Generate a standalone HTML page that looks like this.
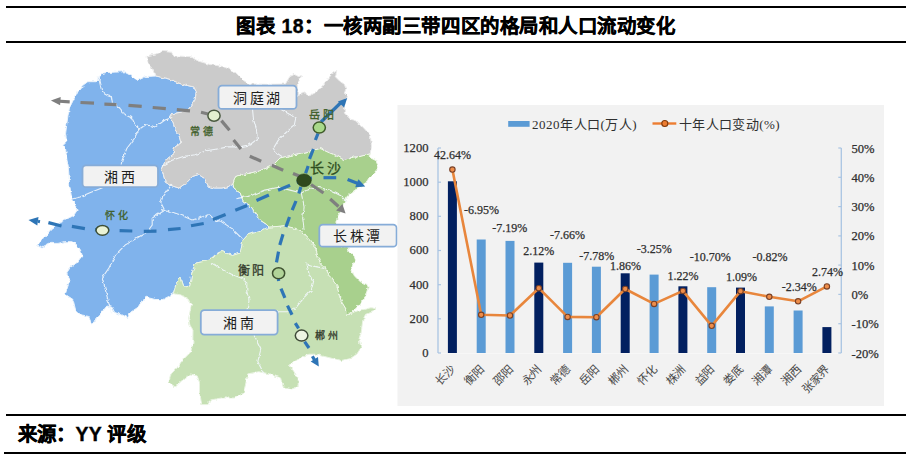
<!DOCTYPE html>
<html lang="zh-CN"><head><meta charset="utf-8"><style>
html,body{margin:0;padding:0;background:#fff;width:912px;height:461px;overflow:hidden}
.ln{position:absolute;background:#000}
.title{position:absolute;left:0;width:912px;top:14px;text-align:center;font-family:"Liberation Sans",sans-serif;font-weight:bold;font-size:19.4px;letter-spacing:0.55px;line-height:24px;color:#000;-webkit-text-stroke:0.4px #000}
.src{position:absolute;left:17.5px;top:422px;font-family:"Liberation Sans",sans-serif;font-weight:bold;font-size:19.4px;letter-spacing:0.3px;line-height:24px;color:#000;-webkit-text-stroke:0.4px #000}
svg{position:absolute;left:0;top:0}
</style></head><body>
<div class="ln" style="left:6px;top:6px;width:900px;height:2px"></div>
<div class="title">图表 18：一核两副三带四区的格局和人口流动变化</div>
<div class="ln" style="left:6px;top:41px;width:900px;height:2px"></div>
<svg width="912" height="461" viewBox="0 0 912 461">
<defs><filter id="jag" x="0" y="0" width="912" height="461" filterUnits="userSpaceOnUse"><feTurbulence type="fractalNoise" baseFrequency="0.22" numOctaves="2" seed="3" result="n"/><feDisplacementMap in="SourceGraphic" in2="n" scale="3.5" xChannelSelector="R" yChannelSelector="G" result="d"/><feGaussianBlur in="d" stdDeviation="0.35"/></filter></defs><g filter="url(#jag)">
<polygon points="156.0,76.0 169.0,79.0 182.0,84.3 193.8,86.9 196.4,92.0 195.0,100.0 190.0,107.7 182.0,112.0 172.0,114.0 169.3,118.0 173.0,122.0 175.0,129.5 179.0,135.4 181.0,143.0 175.0,147.0 173.0,151.0 175.0,153.0 167.3,158.8 163.4,164.7 161.5,168.6 163.4,174.5 165.4,182.3 173.2,186.2 179.0,188.0 186.9,182.3 192.7,176.4 198.6,174.5 204.5,178.4 208.4,186.2 214.2,188.0 222.0,188.0 229.8,186.2 233.0,184.0 233.8,187.8 240.3,193.0 243.0,200.8 250.7,206.0 256.0,213.9 258.5,219.0 266.4,224.3 269.0,227.0 258.5,232.0 248.0,234.7 243.0,240.0 240.3,253.0 232.5,255.5 222.0,251.6 214.3,255.5 210.0,260.0 203.7,261.5 196.1,263.0 193.1,269.1 191.6,275.2 190.0,285.8 184.0,287.3 181.0,278.2 176.4,282.8 173.4,293.4 168.8,296.4 162.8,299.5 155.2,299.5 146.0,297.2 140.0,304.0 138.0,307.3 130.3,312.5 127.7,317.7 122.5,315.0 114.7,312.5 112.0,307.3 106.9,306.0 101.7,312.5 96.5,317.7 95.2,321.6 91.2,323.0 88.6,316.4 80.8,315.0 75.6,310.0 73.0,299.5 65.2,294.3 70.4,278.6 66.7,272.9 70.1,267.7 77.0,262.5 82.3,255.6 80.6,250.3 77.0,245.1 71.9,241.7 65.0,241.7 58.0,243.4 49.3,243.4 42.4,246.9 37.2,245.1 44.1,238.2 49.3,231.2 52.8,227.8 59.7,222.6 66.7,219.0 73.6,215.6 77.0,210.4 75.3,205.2 71.9,200.0 69.5,183.9 68.2,165.6 66.9,160.0 65.6,149.0 63.0,145.5 66.9,141.6 65.6,133.8 66.9,123.0 68.0,115.5 69.5,107.7 74.7,97.3 77.3,92.0 82.5,85.6 87.7,81.7 98.0,81.7 100.7,74.0 106.0,72.5 124.0,71.8 130.0,75.0 137.8,80.4 145.6,76.5" fill="#80b3ec" stroke="#eaf3fc" stroke-width="1"/>
<polygon points="156.0,76.0 152.3,69.8 147.9,62.8 147.0,55.8 155.8,54.0 162.8,51.4 171.6,52.3 173.3,55.8 190.9,56.7 197.9,61.0 210.2,64.6 222.5,66.3 234.7,71.6 243.5,80.4 248.8,83.9 266.0,84.3 284.0,84.0 285.2,84.3 289.7,76.7 294.3,74.4 298.8,76.7 301.9,75.2 299.6,79.7 297.3,84.3 297.3,98.0 300.3,93.4 305.0,91.9 308.0,96.4 314.0,93.4 320.0,88.8 326.0,81.2 332.2,73.7 336.8,70.6 335.3,76.7 339.8,81.2 344.4,84.3 345.9,88.8 344.4,93.4 347.4,96.4 344.4,105.5 344.4,113.0 350.4,119.2 356.5,120.7 361.0,125.2 365.6,130.0 370.3,135.5 371.6,146.0 370.8,150.2 370.3,153.8 362.0,156.3 353.4,157.2 344.7,160.6 336.0,155.4 327.4,152.0 320.4,148.5 306.0,152.0 293.0,155.0 280.0,158.0 272.0,166.0 259.0,171.0 246.0,174.0 235.6,176.5 233.0,184.0 229.8,186.2 222.0,188.0 214.2,188.0 208.4,186.2 204.5,178.4 198.6,174.5 192.7,176.4 186.9,182.3 179.0,188.0 173.2,186.2 165.4,182.3 163.4,174.5 161.5,168.6 163.4,164.7 167.3,158.8 175.0,153.0 173.0,151.0 175.0,147.0 181.0,143.0 179.0,135.4 175.0,129.5 173.0,122.0 169.3,118.0 172.0,114.0 182.0,112.0 190.0,107.7 195.0,100.0 196.4,92.0 193.8,86.9 182.0,84.3 169.0,79.0" fill="#cbcbcb" stroke="#ececec" stroke-width="1"/>
<polygon points="269.0,227.0 277.0,226.5 283.9,225.6 290.8,227.3 301.0,230.0 304.7,235.0 310.0,240.3 315.2,247.0 317.8,256.2 320.4,262.8 325.6,268.0 329.5,275.8 333.4,281.0 337.0,285.6 339.5,296.0 342.1,302.6 346.0,309.0 347.3,314.3 359.0,310.4 365.6,309.0 372.0,307.8 376.0,309.0 373.4,311.7 365.6,314.3 363.0,319.5 361.0,332.5 359.0,339.0 361.0,347.7 356.8,354.2 350.3,358.6 341.6,360.7 332.9,358.6 324.2,356.4 315.5,354.2 309.0,354.2 302.5,356.4 296.0,360.7 289.5,365.0 293.9,371.6 298.2,378.0 298.2,386.8 291.7,389.0 283.0,386.8 280.6,378.0 269.6,373.9 258.7,371.7 247.7,373.9 245.5,384.8 243.3,393.6 234.6,398.0 221.4,398.0 210.4,400.0 208.0,404.6 201.7,404.6 199.5,391.4 199.5,382.6 197.3,376.0 190.7,373.9 182.0,380.4 175.4,387.0 168.8,382.6 171.0,374.0 177.5,367.3 182.0,360.7 190.7,352.0 192.9,343.0 192.9,336.6 193.0,330.0 190.0,325.2 188.6,319.2 190.0,311.6 191.6,304.0 188.6,299.5 181.0,295.0 173.4,293.4 176.4,282.8 181.0,278.2 184.0,287.3 190.0,285.8 191.6,275.2 193.1,269.1 196.1,263.0 203.7,261.5 210.0,260.0 214.3,255.5 222.0,251.6 232.5,255.5 240.3,253.0 243.0,240.0 248.0,234.7 258.5,232.0" fill="#c6e0b4" stroke="#e9f3e2" stroke-width="1"/>
<polygon points="233.0,184.0 235.6,176.5 246.0,174.0 259.0,171.0 272.0,166.0 280.0,158.0 293.0,155.0 306.0,152.0 320.4,148.5 327.4,152.0 336.0,155.4 344.7,160.6 353.4,157.2 362.0,156.3 370.3,153.8 369.0,157.2 376.0,160.6 378.6,167.6 374.2,172.8 369.0,178.0 365.6,183.2 362.0,186.7 355.0,190.1 348.2,195.3 344.7,200.6 343.0,205.8 341.2,211.0 337.8,216.2 336.0,221.4 336.0,230.0 340.0,247.0 347.8,246.5 349.0,251.0 354.3,256.2 355.6,260.2 353.0,264.0 351.7,269.3 354.3,275.8 360.4,281.7 366.9,284.3 368.2,287.0 365.6,296.0 363.0,300.0 359.0,305.2 353.9,310.4 350.0,313.0 347.3,314.3 346.0,309.0 342.1,302.6 339.5,296.0 337.0,285.6 333.4,281.0 329.5,275.8 325.6,268.0 320.4,262.8 317.8,256.2 315.2,247.0 310.0,240.3 304.7,235.0 301.0,230.0 290.8,227.3 283.9,225.6 277.0,226.5 269.0,227.0 266.4,224.3 258.5,219.0 256.0,213.9 250.7,206.0 243.0,200.8 240.3,193.0 233.8,187.8" fill="#a8d08d" stroke="#eef6e8" stroke-width="1"/>
<path d="M98.2,76.0 L100.6,86.5 L101.8,91.3 L107.7,94.8 L111.3,96.0 L112.5,103.2 L119.7,108.0 L122.0,112.7 L131.6,117.5 L134.0,122.3 L138.8,129.4 L145.9,124.7 L155.5,127.0 L165.0,120.0 L172.2,117.5" fill="none" stroke="#f2f7fc" stroke-width="1.1" opacity="0.9"/>
<path d="M138.8,129.4 L134.0,139.0 L126.8,148.5 L122.0,160.5 L120.9,166.0" fill="none" stroke="#f2f7fc" stroke-width="1.1" opacity="0.9"/>
<path d="M105.6,186.5 L89.3,193.0 L80.0,197.0 L72.0,199.0" fill="none" stroke="#f2f7fc" stroke-width="1.1" opacity="0.9"/>
<path d="M161.7,166.4 L171.5,160.5 L183.2,156.6 L195.0,154.7 L206.6,150.8 L218.4,148.8 L228.0,146.9 L239.8,146.9 L249.6,144.9 L257.4,139.0 L256.4,129.3 L253.5,119.5 L252.5,109.0" fill="none" stroke="#f2f7fc" stroke-width="1.1" opacity="0.9"/>
<path d="M280.3,109.0 L289.0,113.9 L295.9,117.3 L294.1,126.0 L285.5,133.0 L278.5,139.9 L273.3,148.5 L276.8,153.7 L282.0,157.2" fill="none" stroke="#f2f7fc" stroke-width="1.1" opacity="0.9"/>
<path d="M172.0,184.0 L162.6,197.4 L160.8,202.6 L164.3,209.5 L159.0,213.0 L152.2,218.2 L152.2,225.0 L147.0,232.0 L138.2,237.3 L125.1,245.1 L115.4,254.9 L108.9,268.0 L102.3,277.7 L105.6,290.7 L108.9,303.8 L112.0,313.5" fill="none" stroke="#f2f7fc" stroke-width="1.1" opacity="0.9"/>
<path d="M164.3,209.5 L180.0,214.7 L192.0,220.0 L204.2,216.5 L209.4,214.7 L214.7,220.0 L221.6,221.7 L232.0,228.6 L242.4,239.0" fill="none" stroke="#f2f7fc" stroke-width="1.1" opacity="0.9"/>
<path d="M236.5,198.6 L250.6,195.7 L264.7,190.1 L278.7,187.3 L290.0,190.1 L301.3,193.0 L307.0,190.1 L318.2,187.3 L329.5,190.1 L340.8,195.7 L346.4,201.4" fill="none" stroke="#f2f7fc" stroke-width="1.1" opacity="0.9"/>
<path d="M301.3,193.0 L304.1,207.0 L302.7,218.3 L304.1,229.6" fill="none" stroke="#f2f7fc" stroke-width="1.1" opacity="0.9"/>
<path d="M212.0,263.4 L223.0,270.0 L231.6,274.2 L242.5,278.6 L246.8,283.0 L246.8,291.6 L249.0,300.0 L246.8,311.0 L252.0,325.0 L254.7,337.3 L260.8,349.4 L257.8,361.6 L263.8,373.7" fill="none" stroke="#f2f7fc" stroke-width="1.1" opacity="0.9"/>
<path d="M324.4,268.4 L313.6,266.2 L307.0,264.0 L309.2,274.9 L313.6,281.4 L311.4,290.0 L304.9,296.6 L296.2,307.4 L287.5,311.8 L276.7,311.8 L260.8,313.0 L248.6,310.0" fill="none" stroke="#f2f7fc" stroke-width="1.1" opacity="0.9"/>
</g>
<line x1="56" y1="101" x2="69.7" y2="101.8" stroke="#7f7f7f" stroke-width="3.2"/><line x1="80.5" y1="102.5" x2="94" y2="103.2" stroke="#7f7f7f" stroke-width="3.2"/><line x1="104.4" y1="104.2" x2="116.5" y2="104.6" stroke="#7f7f7f" stroke-width="3.2"/><line x1="128.5" y1="105.3" x2="141.7" y2="106.4" stroke="#7f7f7f" stroke-width="3.2"/><line x1="152.7" y1="107.5" x2="165.8" y2="108.6" stroke="#7f7f7f" stroke-width="3.2"/><line x1="176.8" y1="109.7" x2="190" y2="110.8" stroke="#7f7f7f" stroke-width="3.2"/><line x1="201" y1="112.3" x2="208" y2="114" stroke="#7f7f7f" stroke-width="3.2"/><line x1="221.4" y1="120.6" x2="229.5" y2="130.3" stroke="#7f7f7f" stroke-width="3.2"/><line x1="233.6" y1="140" x2="240.9" y2="149" stroke="#7f7f7f" stroke-width="3.2"/><line x1="249.8" y1="156.3" x2="261.2" y2="161.2" stroke="#7f7f7f" stroke-width="3.2"/><line x1="271.8" y1="165.3" x2="283.2" y2="170.2" stroke="#7f7f7f" stroke-width="3.2"/><line x1="293" y1="173.4" x2="301" y2="176.7" stroke="#7f7f7f" stroke-width="3.2"/><line x1="311" y1="184.5" x2="323.5" y2="193" stroke="#7f7f7f" stroke-width="3.2"/><line x1="330.2" y1="199" x2="338.5" y2="206.5" stroke="#7f7f7f" stroke-width="3.2"/>
<polygon points="50.9,100.5 60.7,97.0 60.1,105.3" fill="#7f7f7f"/>
<polygon points="345.6,213.6 336.1,210.4 342.4,204.1" fill="#7f7f7f"/>
<line x1="38" y1="221.3" x2="40" y2="221.7" stroke="#2e75b6" stroke-width="3.2"/><line x1="48.4" y1="222.6" x2="61.5" y2="226" stroke="#2e75b6" stroke-width="3.2"/><line x1="71.9" y1="226.4" x2="84.9" y2="228.6" stroke="#2e75b6" stroke-width="3.2"/><line x1="95" y1="229.6" x2="98" y2="229.9" stroke="#2e75b6" stroke-width="3.2"/><line x1="108" y1="230.4" x2="109" y2="230.5" stroke="#2e75b6" stroke-width="3.2"/><line x1="119.6" y1="230.7" x2="132.3" y2="231" stroke="#2e75b6" stroke-width="3.2"/><line x1="143.8" y1="231.4" x2="156.5" y2="231.2" stroke="#2e75b6" stroke-width="3.2"/><line x1="168" y1="229.6" x2="180.6" y2="228.5" stroke="#2e75b6" stroke-width="3.2"/><line x1="191" y1="225.8" x2="203.7" y2="223.5" stroke="#2e75b6" stroke-width="3.2"/><line x1="212.9" y1="219.5" x2="225.6" y2="214.5" stroke="#2e75b6" stroke-width="3.2"/><line x1="235.3" y1="210.2" x2="247.2" y2="205.4" stroke="#2e75b6" stroke-width="3.2"/><line x1="256.5" y1="200.5" x2="268.9" y2="195" stroke="#2e75b6" stroke-width="3.2"/><line x1="278.1" y1="190.2" x2="290.1" y2="185.3" stroke="#2e75b6" stroke-width="3.2"/><line x1="297" y1="182.8" x2="301" y2="181.5" stroke="#2e75b6" stroke-width="3.2"/><line x1="308" y1="178.3" x2="312" y2="178" stroke="#2e75b6" stroke-width="3.2"/><line x1="323.5" y1="177.7" x2="336.2" y2="177.7" stroke="#2e75b6" stroke-width="3.2"/><line x1="347.6" y1="179.5" x2="358" y2="183.6" stroke="#2e75b6" stroke-width="3.2"/>
<polygon points="28.5,220.0 38.5,217.1 37.3,225.4" fill="#2e75b6"/>
<polygon points="365.2,186.5 355.2,187.2 358.4,179.2" fill="#2e75b6"/>
<line x1="321" y1="122" x2="341" y2="102.5" stroke="#2e75b6" stroke-width="3.2"/><line x1="318" y1="133.5" x2="315.4" y2="140" stroke="#2e75b6" stroke-width="3.2"/><line x1="313.4" y1="149" x2="309.5" y2="158.9" stroke="#2e75b6" stroke-width="3.2"/><line x1="308.2" y1="166" x2="305.6" y2="173.2" stroke="#2e75b6" stroke-width="3.2"/><line x1="300.9" y1="186.9" x2="298.8" y2="193.4" stroke="#2e75b6" stroke-width="3.2"/><line x1="296" y1="201" x2="292.2" y2="210.2" stroke="#2e75b6" stroke-width="3.2"/><line x1="289.5" y1="217" x2="285.9" y2="227" stroke="#2e75b6" stroke-width="3.2"/><line x1="283" y1="234.2" x2="279.8" y2="245" stroke="#2e75b6" stroke-width="3.2"/><line x1="278.5" y1="251.6" x2="276.5" y2="262.4" stroke="#2e75b6" stroke-width="3.2"/><line x1="278.4" y1="279" x2="278.6" y2="281" stroke="#2e75b6" stroke-width="3.2"/><line x1="281" y1="288.7" x2="284.9" y2="297.8" stroke="#2e75b6" stroke-width="3.2"/><line x1="287.5" y1="305.6" x2="292" y2="314.7" stroke="#2e75b6" stroke-width="3.2"/><line x1="295.3" y1="323.2" x2="298.6" y2="328.4" stroke="#2e75b6" stroke-width="3.2"/><line x1="304.6" y1="341.7" x2="309" y2="348" stroke="#2e75b6" stroke-width="3.2"/><line x1="312.4" y1="356.3" x2="314.5" y2="360" stroke="#2e75b6" stroke-width="3.2"/>
<polygon points="347.2,98.0 344.1,107.5 337.9,101.6" fill="#2e75b6"/>
<polygon points="318.8,366.6 310.7,361.6 318.0,357.1" fill="#2e75b6"/>
<ellipse cx="102.4" cy="230.3" rx="6.4" ry="4.9" fill="#eaf3d6" stroke="#3d4f37" stroke-width="1.5"/>
<ellipse cx="214" cy="115.7" rx="6.1" ry="5.5" fill="#e3f0cf" stroke="#4a5a40" stroke-width="1.5"/>
<ellipse cx="319.3" cy="127.6" rx="6.1" ry="5.5" fill="#a9d98a" stroke="#3e5a2a" stroke-width="1.5"/>
<ellipse cx="278.6" cy="273.3" rx="6.1" ry="5.5" fill="#b1d498" stroke="#3e5030" stroke-width="1.5"/>
<ellipse cx="301.6" cy="335.6" rx="6.3" ry="5.5" fill="#edf4e2" stroke="#3e4a38" stroke-width="1.5"/>
<ellipse cx="304" cy="180.3" rx="7.3" ry="6.4" fill="#2f4a1e" stroke="#243a16" stroke-width="0.6"/>
<text x="203" y="135" font-size="10" fill="#3f5f2a" text-anchor="middle" font-weight="normal" font-family="'Liberation Serif',serif" letter-spacing="3" stroke="#3f5f2a" stroke-width="0.3">常德</text>
<text x="117.5" y="219" font-size="10" fill="#3f5f2a" text-anchor="middle" font-weight="normal" font-family="'Liberation Serif',serif" letter-spacing="3" stroke="#3f5f2a" stroke-width="0.3">怀化</text>
<text x="322.7" y="118.5" font-size="11" fill="#3f5f2a" text-anchor="middle" font-weight="normal" font-family="'Liberation Serif',serif" letter-spacing="3" stroke="#3f5f2a" stroke-width="0.3">岳阳</text>
<text x="327" y="172.5" font-size="14" fill="#2f4f1f" text-anchor="middle" font-weight="normal" font-family="'Liberation Serif',serif" letter-spacing="3" stroke="#2f4f1f" stroke-width="0.3">长沙</text>
<text x="252" y="275.2" font-size="12" fill="#333a2c" text-anchor="middle" font-weight="normal" font-family="'Liberation Serif',serif" letter-spacing="2" stroke="#333a2c" stroke-width="0.3">衡阳</text>
<text x="327.7" y="338.5" font-size="10" fill="#333a2c" text-anchor="middle" font-weight="normal" font-family="'Liberation Serif',serif" letter-spacing="3" stroke="#333a2c" stroke-width="0.3">郴州</text>
<rect x="218.5" y="85.6" width="78.0" height="23.30000000000001" rx="3.5" fill="#f2f2f2" stroke="#86acd8" stroke-width="1.8"/>
<text x="257.8" y="102.75" font-size="14" fill="#1e1e1e" text-anchor="middle" font-weight="normal" font-family="'Liberation Serif',serif" letter-spacing="2.5">洞庭湖</text>
<rect x="82.5" y="165.4" width="75.5" height="21.799999999999983" rx="3.5" fill="#f2f2f2" stroke="#86acd8" stroke-width="1.8"/>
<text x="120.5" y="181.8" font-size="14" fill="#1e1e1e" text-anchor="middle" font-weight="normal" font-family="'Liberation Serif',serif" letter-spacing="2.5">湘西</text>
<rect x="319.3" y="224.6" width="77.30000000000001" height="22.099999999999994" rx="3.5" fill="#f2f2f2" stroke="#86acd8" stroke-width="1.8"/>
<text x="358" y="241.14999999999998" font-size="14" fill="#1e1e1e" text-anchor="middle" font-weight="normal" font-family="'Liberation Serif',serif" letter-spacing="2.5">长株潭</text>
<rect x="200.8" y="310.2" width="76.80000000000001" height="24.400000000000034" rx="3.5" fill="#f2f2f2" stroke="#86acd8" stroke-width="1.8"/>
<text x="239.5" y="327.9" font-size="14" fill="#1e1e1e" text-anchor="middle" font-weight="normal" font-family="'Liberation Serif',serif" letter-spacing="2.5">湘南</text>
<rect x="397.5" y="105" width="486.5" height="301" fill="#f2f2f2"/>
<rect x="447.9" y="181.3" width="9" height="171.7" fill="#022060"/>
<rect x="476.7" y="239.5" width="9" height="113.5" fill="#5b9bd5"/>
<rect x="505.5" y="240.9" width="9" height="112.1" fill="#5b9bd5"/>
<rect x="534.3" y="262.6" width="9" height="90.4" fill="#022060"/>
<rect x="563.1" y="262.8" width="9" height="90.2" fill="#5b9bd5"/>
<rect x="591.9" y="266.7" width="9" height="86.3" fill="#5b9bd5"/>
<rect x="620.7" y="273.3" width="9" height="79.7" fill="#022060"/>
<rect x="649.6" y="274.6" width="9" height="78.4" fill="#5b9bd5"/>
<rect x="678.4" y="286.3" width="9" height="66.7" fill="#022060"/>
<rect x="707.2" y="287.2" width="9" height="65.8" fill="#5b9bd5"/>
<rect x="736.0" y="287.6" width="9" height="65.4" fill="#022060"/>
<rect x="764.8" y="306.4" width="9" height="46.6" fill="#5b9bd5"/>
<rect x="793.6" y="310.5" width="9" height="42.5" fill="#5b9bd5"/>
<rect x="822.4" y="327.1" width="9" height="25.9" fill="#022060"/>
<line x1="438.0" y1="353.5" x2="841.3" y2="353.5" stroke="#f7f7f7" stroke-width="1"/>
<line x1="438.0" y1="148.0" x2="438.0" y2="353.0" stroke="#a9c4e2" stroke-width="1.3"/>
<line x1="841.3" y1="148.0" x2="841.3" y2="353.0" stroke="#a9c4e2" stroke-width="1.3"/>
<line x1="438.0" y1="353.0" x2="441.0" y2="353.0" stroke="#a9c4e2" stroke-width="1.2"/>
<text x="428.5" y="356.9" font-size="12.6" fill="#2f2f2f" text-anchor="end" font-weight="normal" font-family="'Liberation Serif',serif" stroke="#2f2f2f" stroke-width="0.25">0</text>
<line x1="438.0" y1="318.8" x2="441.0" y2="318.8" stroke="#a9c4e2" stroke-width="1.2"/>
<text x="428.5" y="322.7333333333333" font-size="12.6" fill="#2f2f2f" text-anchor="end" font-weight="normal" font-family="'Liberation Serif',serif" stroke="#2f2f2f" stroke-width="0.25">200</text>
<line x1="438.0" y1="284.7" x2="441.0" y2="284.7" stroke="#a9c4e2" stroke-width="1.2"/>
<text x="428.5" y="288.56666666666666" font-size="12.6" fill="#2f2f2f" text-anchor="end" font-weight="normal" font-family="'Liberation Serif',serif" stroke="#2f2f2f" stroke-width="0.25">400</text>
<line x1="438.0" y1="250.5" x2="441.0" y2="250.5" stroke="#a9c4e2" stroke-width="1.2"/>
<text x="428.5" y="254.4" font-size="12.6" fill="#2f2f2f" text-anchor="end" font-weight="normal" font-family="'Liberation Serif',serif" stroke="#2f2f2f" stroke-width="0.25">600</text>
<line x1="438.0" y1="216.3" x2="441.0" y2="216.3" stroke="#a9c4e2" stroke-width="1.2"/>
<text x="428.5" y="220.23333333333335" font-size="12.6" fill="#2f2f2f" text-anchor="end" font-weight="normal" font-family="'Liberation Serif',serif" stroke="#2f2f2f" stroke-width="0.25">800</text>
<line x1="438.0" y1="182.2" x2="441.0" y2="182.2" stroke="#a9c4e2" stroke-width="1.2"/>
<text x="428.5" y="186.06666666666666" font-size="12.6" fill="#2f2f2f" text-anchor="end" font-weight="normal" font-family="'Liberation Serif',serif" stroke="#2f2f2f" stroke-width="0.25">1000</text>
<line x1="438.0" y1="148.0" x2="441.0" y2="148.0" stroke="#a9c4e2" stroke-width="1.2"/>
<text x="428.5" y="151.9" font-size="12.6" fill="#2f2f2f" text-anchor="end" font-weight="normal" font-family="'Liberation Serif',serif" stroke="#2f2f2f" stroke-width="0.25">1200</text>
<line x1="838.3" y1="148.0" x2="841.3" y2="148.0" stroke="#a9c4e2" stroke-width="1.2"/>
<text x="851.5" y="152.6" font-size="12.6" fill="#2f2f2f" text-anchor="start" font-weight="normal" font-family="'Liberation Serif',serif" stroke="#2f2f2f" stroke-width="0.25">50%</text>
<line x1="838.3" y1="177.3" x2="841.3" y2="177.3" stroke="#a9c4e2" stroke-width="1.2"/>
<text x="851.5" y="181.88571428571427" font-size="12.6" fill="#2f2f2f" text-anchor="start" font-weight="normal" font-family="'Liberation Serif',serif" stroke="#2f2f2f" stroke-width="0.25">40%</text>
<line x1="838.3" y1="206.6" x2="841.3" y2="206.6" stroke="#a9c4e2" stroke-width="1.2"/>
<text x="851.5" y="211.17142857142855" font-size="12.6" fill="#2f2f2f" text-anchor="start" font-weight="normal" font-family="'Liberation Serif',serif" stroke="#2f2f2f" stroke-width="0.25">30%</text>
<line x1="838.3" y1="235.9" x2="841.3" y2="235.9" stroke="#a9c4e2" stroke-width="1.2"/>
<text x="851.5" y="240.45714285714286" font-size="12.6" fill="#2f2f2f" text-anchor="start" font-weight="normal" font-family="'Liberation Serif',serif" stroke="#2f2f2f" stroke-width="0.25">20%</text>
<line x1="838.3" y1="265.1" x2="841.3" y2="265.1" stroke="#a9c4e2" stroke-width="1.2"/>
<text x="851.5" y="269.74285714285713" font-size="12.6" fill="#2f2f2f" text-anchor="start" font-weight="normal" font-family="'Liberation Serif',serif" stroke="#2f2f2f" stroke-width="0.25">10%</text>
<line x1="838.3" y1="294.4" x2="841.3" y2="294.4" stroke="#a9c4e2" stroke-width="1.2"/>
<text x="851.5" y="299.02857142857147" font-size="12.6" fill="#2f2f2f" text-anchor="start" font-weight="normal" font-family="'Liberation Serif',serif" stroke="#2f2f2f" stroke-width="0.25">0%</text>
<line x1="838.3" y1="323.7" x2="841.3" y2="323.7" stroke="#a9c4e2" stroke-width="1.2"/>
<text x="851.5" y="328.31428571428575" font-size="12.6" fill="#2f2f2f" text-anchor="start" font-weight="normal" font-family="'Liberation Serif',serif" stroke="#2f2f2f" stroke-width="0.25">-10%</text>
<line x1="838.3" y1="353.0" x2="841.3" y2="353.0" stroke="#a9c4e2" stroke-width="1.2"/>
<text x="851.5" y="357.6" font-size="12.6" fill="#2f2f2f" text-anchor="start" font-weight="normal" font-family="'Liberation Serif',serif" stroke="#2f2f2f" stroke-width="0.25">-20%</text>
<path d="M452.4,169.6 L481.2,314.8 L510.0,315.5 L538.8,288.2 L567.6,316.9 L596.4,317.2 L625.2,289.0 L654.1,303.9 L682.9,290.9 L711.7,325.8 L740.5,291.2 L769.3,296.8 L798.1,301.3 L826.9,286.4" fill="none" stroke="#e8863c" stroke-width="2.6" stroke-linejoin="round"/>
<circle cx="452.4" cy="169.6" r="2.7" fill="#ee8d4a" stroke="#7a4126" stroke-width="1.1"/>
<circle cx="481.2" cy="314.8" r="2.7" fill="#ee8d4a" stroke="#7a4126" stroke-width="1.1"/>
<circle cx="510.0" cy="315.5" r="2.7" fill="#ee8d4a" stroke="#7a4126" stroke-width="1.1"/>
<circle cx="538.8" cy="288.2" r="2.7" fill="#ee8d4a" stroke="#7a4126" stroke-width="1.1"/>
<circle cx="567.6" cy="316.9" r="2.7" fill="#ee8d4a" stroke="#7a4126" stroke-width="1.1"/>
<circle cx="596.4" cy="317.2" r="2.7" fill="#ee8d4a" stroke="#7a4126" stroke-width="1.1"/>
<circle cx="625.2" cy="289.0" r="2.7" fill="#ee8d4a" stroke="#7a4126" stroke-width="1.1"/>
<circle cx="654.1" cy="303.9" r="2.7" fill="#ee8d4a" stroke="#7a4126" stroke-width="1.1"/>
<circle cx="682.9" cy="290.9" r="2.7" fill="#ee8d4a" stroke="#7a4126" stroke-width="1.1"/>
<circle cx="711.7" cy="325.8" r="2.7" fill="#ee8d4a" stroke="#7a4126" stroke-width="1.1"/>
<circle cx="740.5" cy="291.2" r="2.7" fill="#ee8d4a" stroke="#7a4126" stroke-width="1.1"/>
<circle cx="769.3" cy="296.8" r="2.7" fill="#ee8d4a" stroke="#7a4126" stroke-width="1.1"/>
<circle cx="798.1" cy="301.3" r="2.7" fill="#ee8d4a" stroke="#7a4126" stroke-width="1.1"/>
<circle cx="826.9" cy="286.4" r="2.7" fill="#ee8d4a" stroke="#7a4126" stroke-width="1.1"/>
<text x="452.6" y="159.20000000000002" font-size="12" fill="#2f2f2f" text-anchor="middle" font-weight="normal" font-family="'Liberation Serif',serif" stroke="#2f2f2f" stroke-width="0.25">42.64%</text>
<text x="481.5" y="213.8" font-size="12" fill="#2f2f2f" text-anchor="middle" font-weight="normal" font-family="'Liberation Serif',serif" stroke="#2f2f2f" stroke-width="0.25">-6.95%</text>
<text x="509.8" y="232.3" font-size="12" fill="#2f2f2f" text-anchor="middle" font-weight="normal" font-family="'Liberation Serif',serif" stroke="#2f2f2f" stroke-width="0.25">-7.19%</text>
<text x="538.7" y="255.0" font-size="12" fill="#2f2f2f" text-anchor="middle" font-weight="normal" font-family="'Liberation Serif',serif" stroke="#2f2f2f" stroke-width="0.25">2.12%</text>
<text x="567.4" y="238.70000000000002" font-size="12" fill="#2f2f2f" text-anchor="middle" font-weight="normal" font-family="'Liberation Serif',serif" stroke="#2f2f2f" stroke-width="0.25">-7.66%</text>
<text x="596.8" y="260.1" font-size="12" fill="#2f2f2f" text-anchor="middle" font-weight="normal" font-family="'Liberation Serif',serif" stroke="#2f2f2f" stroke-width="0.25">-7.78%</text>
<text x="625.4" y="269.90000000000003" font-size="12" fill="#2f2f2f" text-anchor="middle" font-weight="normal" font-family="'Liberation Serif',serif" stroke="#2f2f2f" stroke-width="0.25">1.86%</text>
<text x="654.3" y="252.5" font-size="12" fill="#2f2f2f" text-anchor="middle" font-weight="normal" font-family="'Liberation Serif',serif" stroke="#2f2f2f" stroke-width="0.25">-3.25%</text>
<text x="683" y="279.7" font-size="12" fill="#2f2f2f" text-anchor="middle" font-weight="normal" font-family="'Liberation Serif',serif" stroke="#2f2f2f" stroke-width="0.25">1.22%</text>
<text x="710.3" y="261.2" font-size="12" fill="#2f2f2f" text-anchor="middle" font-weight="normal" font-family="'Liberation Serif',serif" stroke="#2f2f2f" stroke-width="0.25">-10.70%</text>
<text x="741.5" y="280.6" font-size="12" fill="#2f2f2f" text-anchor="middle" font-weight="normal" font-family="'Liberation Serif',serif" stroke="#2f2f2f" stroke-width="0.25">1.09%</text>
<text x="769.9" y="260.6" font-size="12" fill="#2f2f2f" text-anchor="middle" font-weight="normal" font-family="'Liberation Serif',serif" stroke="#2f2f2f" stroke-width="0.25">-0.82%</text>
<text x="799.2" y="291.2" font-size="12" fill="#2f2f2f" text-anchor="middle" font-weight="normal" font-family="'Liberation Serif',serif" stroke="#2f2f2f" stroke-width="0.25">-2.34%</text>
<text x="827.4" y="276.2" font-size="12" fill="#2f2f2f" text-anchor="middle" font-weight="normal" font-family="'Liberation Serif',serif" stroke="#2f2f2f" stroke-width="0.25">2.74%</text>
<rect x="508.2" y="121" width="21.4" height="5.8" fill="#5b9bd5"/>
<text x="532" y="128.5" font-size="13" fill="#2f2f2f" text-anchor="start" font-weight="normal" font-family="'Liberation Serif',serif" letter-spacing="0.5">2020年人口(万人)</text>
<line x1="652.5" y1="123.5" x2="676.3" y2="123.5" stroke="#ed7d31" stroke-width="2.4"/>
<circle cx="664.8" cy="123.5" r="3" fill="#ed7d31" stroke="#843c0c" stroke-width="1.2"/>
<text x="678.8" y="128.5" font-size="13" fill="#2f2f2f" text-anchor="start" font-weight="normal" font-family="'Liberation Serif',serif" letter-spacing="0.42">十年人口变动(%)</text>
<text transform="translate(453.9,368.5) rotate(-45)" x="0" y="0" font-size="11.5" fill="#4a4a4a" text-anchor="end" font-family="'Liberation Serif',serif" dominant-baseline="middle">长沙</text>
<text transform="translate(482.7,368.5) rotate(-45)" x="0" y="0" font-size="11.5" fill="#4a4a4a" text-anchor="end" font-family="'Liberation Serif',serif" dominant-baseline="middle">衡阳</text>
<text transform="translate(511.5,368.5) rotate(-45)" x="0" y="0" font-size="11.5" fill="#4a4a4a" text-anchor="end" font-family="'Liberation Serif',serif" dominant-baseline="middle">邵阳</text>
<text transform="translate(540.3,368.5) rotate(-45)" x="0" y="0" font-size="11.5" fill="#4a4a4a" text-anchor="end" font-family="'Liberation Serif',serif" dominant-baseline="middle">永州</text>
<text transform="translate(569.1,368.5) rotate(-45)" x="0" y="0" font-size="11.5" fill="#4a4a4a" text-anchor="end" font-family="'Liberation Serif',serif" dominant-baseline="middle">常德</text>
<text transform="translate(597.9,368.5) rotate(-45)" x="0" y="0" font-size="11.5" fill="#4a4a4a" text-anchor="end" font-family="'Liberation Serif',serif" dominant-baseline="middle">岳阳</text>
<text transform="translate(626.7,368.5) rotate(-45)" x="0" y="0" font-size="11.5" fill="#4a4a4a" text-anchor="end" font-family="'Liberation Serif',serif" dominant-baseline="middle">郴州</text>
<text transform="translate(655.6,368.5) rotate(-45)" x="0" y="0" font-size="11.5" fill="#4a4a4a" text-anchor="end" font-family="'Liberation Serif',serif" dominant-baseline="middle">怀化</text>
<text transform="translate(684.4,368.5) rotate(-45)" x="0" y="0" font-size="11.5" fill="#4a4a4a" text-anchor="end" font-family="'Liberation Serif',serif" dominant-baseline="middle">株洲</text>
<text transform="translate(713.2,368.5) rotate(-45)" x="0" y="0" font-size="11.5" fill="#4a4a4a" text-anchor="end" font-family="'Liberation Serif',serif" dominant-baseline="middle">益阳</text>
<text transform="translate(742.0,368.5) rotate(-45)" x="0" y="0" font-size="11.5" fill="#4a4a4a" text-anchor="end" font-family="'Liberation Serif',serif" dominant-baseline="middle">娄底</text>
<text transform="translate(770.8,368.5) rotate(-45)" x="0" y="0" font-size="11.5" fill="#4a4a4a" text-anchor="end" font-family="'Liberation Serif',serif" dominant-baseline="middle">湘潭</text>
<text transform="translate(799.6,368.5) rotate(-45)" x="0" y="0" font-size="11.5" fill="#4a4a4a" text-anchor="end" font-family="'Liberation Serif',serif" dominant-baseline="middle">湘西</text>
<text transform="translate(828.4,368.5) rotate(-45)" x="0" y="0" font-size="11.5" fill="#4a4a4a" text-anchor="end" font-family="'Liberation Serif',serif" dominant-baseline="middle">张家界</text>
</svg>
<div class="ln" style="left:6px;top:414px;width:900px;height:2px"></div>
<div class="src">来源：YY 评级</div>
<div class="ln" style="left:4px;top:452px;width:902px;height:2px"></div>
</body></html>
